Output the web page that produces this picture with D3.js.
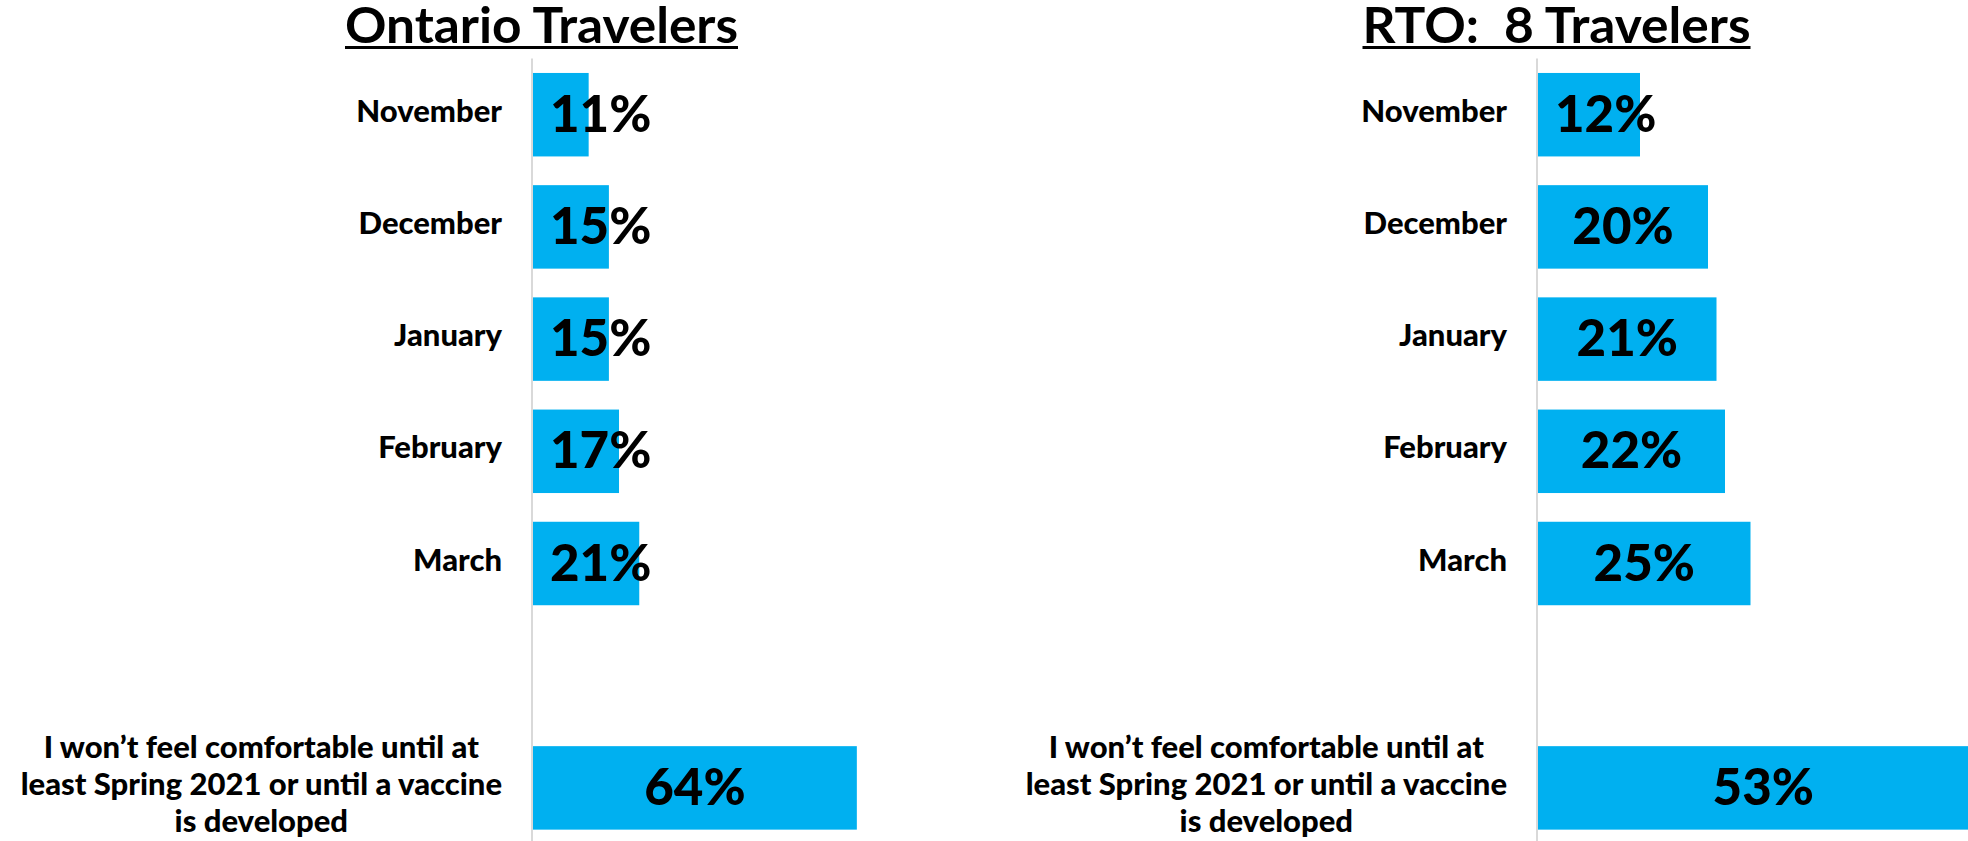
<!DOCTYPE html>
<html>
<head>
<meta charset="utf-8">
<script src="https://cdn.jsdelivr.net/npm/d3@7"></script>
<style>
  html, body { margin: 0; padding: 0; background: #ffffff; }
  svg { display: block; }
  text { font-family: Lato, "Open Sans", sans-serif; fill: #000; }
</style>
</head>
<body>
<svg id="chart" width="1968" height="841"></svg>
<script>
// ---- data ----
const months = ["November", "December", "January", "February", "March"];
const comfortLabel = "I won’t feel comfortable until at\nleast Spring 2021 or until a vaccine\nis developed";
const categories = [...months, comfortLabel];
const ontarioValues = [11, 15, 15, 17, 21, 64];
const rtoValues = [12, 20, 21, 22, 25, 53];
const panelTitles = ["Ontario Travelers", "RTO:  8 Travelers"];

// ---- layout ----
const W = 1968, H = 841;
const svg = d3.select("#chart");
const BAR = "#00B0F0";

const bandDomain = [...months, "__gap__", comfortLabel];
const y = d3.scaleBand().domain(bandDomain).range([58.6, 844]).paddingInner(0.256).paddingOuter(0.128);

const panels = [
  { title: panelTitles[0], values: ontarioValues, base: 533, pxMax: 506, titleX: 541.5, titleW: 393 },
  { title: panelTitles[1], values: rtoValues, base: 1538, pxMax: 850, titleX: 1556.5, titleW: 388 }
];

svg.append("defs").append("clipPath").attr("id", "vp")
  .append("rect").attr("x", 0).attr("y", 0).attr("width", W).attr("height", H);

panels.forEach(p => {
  const x = d3.scaleLinear().domain([0, 100]).range([p.base, p.base + p.pxMax]);
  const g = svg.append("g").attr("clip-path", "url(#vp)");

  // title
  g.append("text")
    .attr("x", p.titleX).attr("y", 42.5)
    .attr("text-anchor", "middle")
    .style("font-size", "49px").style("font-weight", 700)
    .style("white-space", "pre")
    .attr("textLength", p.titleW).attr("lengthAdjust", "spacingAndGlyphs")
    .text(p.title);
  g.append("line")
    .attr("x1", p.titleX - p.titleW / 2).attr("x2", p.titleX + p.titleW / 2)
    .attr("y1", 47.5).attr("y2", 47.5)
    .attr("stroke", "#000").attr("stroke-width", 3);

  // axis line
  g.append("line")
    .attr("x1", p.base - 1).attr("x2", p.base - 1)
    .attr("y1", y.range()[0]).attr("y2", H)
    .attr("stroke", "#d9d9d9").attr("stroke-width", 2);

  const rows = categories.map((c, i) => ({ cat: c, v: p.values[i] }));

  // bars
  g.selectAll("rect.bar").data(rows).join("rect")
    .attr("class", "bar")
    .attr("x", x(0))
    .attr("y", d => y(d.cat))
    .attr("width", d => x(d.v) - x(0))
    .attr("height", y.bandwidth())
    .attr("fill", BAR);

  // value labels
  g.selectAll("text.val").data(rows).join("text")
    .attr("class", "val")
    .attr("text-anchor", "middle")
    .attr("y", d => y(d.cat) + y.bandwidth() / 2 + 17)
    .style("font-size", "51px").style("font-weight", 900)
    .text(d => d.v + "%")
    .each(function(d) {
      const w = this.getComputedTextLength();
      const cx = Math.max((x(0) + x(d.v)) / 2, x(0) + 17 + w / 2);
      d3.select(this).attr("x", cx);
    });

  // category labels
  rows.forEach(d => {
    const lines = d.cat.split("\n");
    const cy = y(d.cat) + y.bandwidth() / 2;
    const txt = g.append("text")
      .style("font-size", "31px").style("font-weight", 900)
      .attr("text-anchor", lines.length > 1 ? "middle" : "end");
    const lh = 37;
    lines.forEach((ln, i) => {
      txt.append("tspan")
        .attr("y", cy + 7 + (i - (lines.length - 1) / 2) * lh)
        .text(ln);
    });
    if (lines.length > 1) {
      let maxW = 0;
      txt.selectAll("tspan").each(function() { maxW = Math.max(maxW, this.getComputedTextLength()); });
      const right = p.base - 31;
      txt.selectAll("tspan").attr("x", right - maxW / 2);
    } else {
      txt.selectAll("tspan").attr("x", p.base - 31);
    }
  });
});
</script>
</body>
</html>
